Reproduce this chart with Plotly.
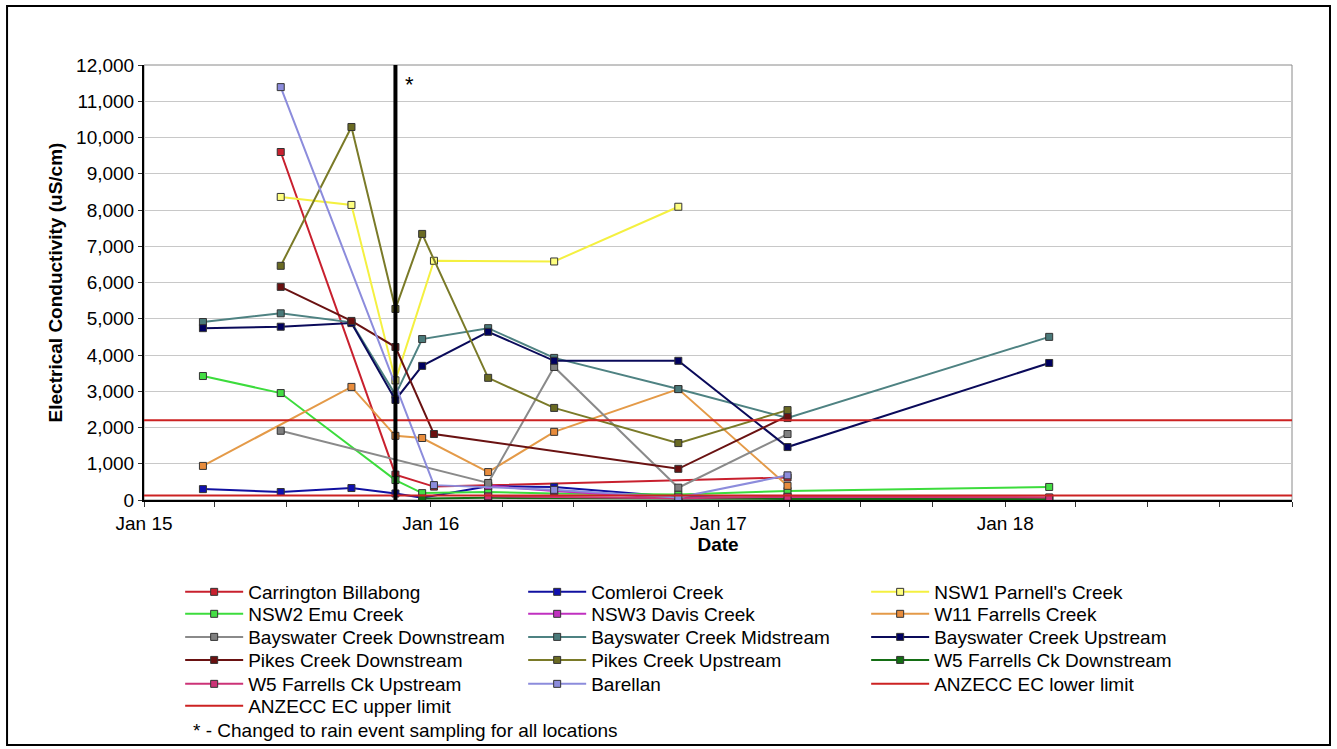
import plotly.graph_objects as go

# Sampling rounds (dates on which at least one site was sampled)
sample_dates = ["2015-03-17", "2015-06-24", "2015-09-22", "2015-11-17", "2015-12-21",
                "2016-01-05", "2016-03-14", "2016-06-06", "2016-11-11", "2017-03-30",
                "2018-02-26"]

# Electrical conductivity (uS/cm) per site, aligned with sample_dates (None = not sampled)
carrington_billabong = [None, 9600, None, 700, None, 370, None, None, None, 620, None]
comleroi_creek = [300, 220, 330, 180, 60, None, 380, 360, 80, 50, 50]
nsw1_parnells_creek = [None, 8360, 8140, 3300, None, 6600, None, 6580, 8090, None, None]
nsw2_emu_creek = [3420, 2950, None, 550, 190, None, 220, 180, 150, 250, 360]
nsw3_davis_creek = [None, None, None, None, None, None, 390, 250, 40, 70, 60]
w11_farrells_creek = [940, None, 3120, 1770, 1710, None, 770, 1880, 3060, 390, None]
bayswater_downstream = [None, 1910, None, None, None, None, 470, 3670, 340, 1820, None]
bayswater_midstream = [4910, 5150, 4900, 2900, 4440, None, 4740, 3920, 3060, 2260, 4500]
bayswater_upstream = [4740, 4780, 4880, 2760, 3700, None, 4640, 3840, 3840, 1460, 3780]
pikes_downstream = [None, 5880, 4940, 4220, None, 1820, None, None, 860, 2320, None]
pikes_upstream = [None, 6460, 10290, 5270, 7340, None, 3370, 2540, 1570, 2480, None]
w5_farrells_downstream = [None, None, None, None, 40, None, 60, None, 40, 30, 30]
w5_farrells_upstream = [None, None, None, None, None, None, 100, None, 50, 90, 70]
barellan = [None, 11390, None, None, None, 410, None, 280, 70, 680, None]

# ANZECC guideline limits for EC (uS/cm)
anzecc_lower = 125
anzecc_upper = 2200

rain_event_date = "2015-11-17"
axis_start, axis_end = "2015-01-01", "2019-01-01"

# Quarterly x ticks, labelled only in January
tick_dates = ["2015-01-01", "2015-04-01", "2015-07-01", "2015-10-01",
              "2016-01-01", "2016-04-01", "2016-07-01", "2016-10-01",
              "2017-01-01", "2017-04-01", "2017-07-01", "2017-10-01",
              "2018-01-01", "2018-04-01", "2018-07-01", "2018-10-01",
              "2019-01-01"]
tick_labels = ["Jan 15", "", "", "", "Jan 16", "", "", "", "Jan 17", "", "", "",
               "Jan 18", "", "", "", ""]

FONT = "Arial, Liberation Sans, sans-serif"

# name, values, line colour, marker fill, legend row
series = [
    ("Carrington Billabong", carrington_billabong, "#C8202E", "#C8202E", 1),
    ("Comleroi Creek", comleroi_creek, "#1010A0", "#1010B0", 1),
    ("NSW1 Parnell's Creek", nsw1_parnells_creek, "#F4F040", "#FFFF80", 1),
    ("NSW2 Emu Creek", nsw2_emu_creek, "#3CDC3C", "#44DD44", 2),
    ("NSW3 Davis Creek", nsw3_davis_creek, "#C030C0", "#C030C0", 2),
    ("W11 Farrells Creek", w11_farrells_creek, "#E49A48", "#E88C3C", 2),
    ("Bayswater Creek Downstream", bayswater_downstream, "#8A8A8A", "#808080", 3),
    ("Bayswater Creek Midstream", bayswater_midstream, "#4E8282", "#4A7A7A", 3),
    ("Bayswater Creek Upstream", bayswater_upstream, "#0A0A5A", "#000060", 3),
    ("Pikes Creek Downstream", pikes_downstream, "#6A1212", "#6A1010", 4),
    ("Pikes Creek Upstream", pikes_upstream, "#7A7A28", "#6A6A22", 4),
    ("W5 Farrells Ck Downstream", w5_farrells_downstream, "#146E14", "#146E14", 4),
    ("W5 Farrells Ck Upstream", w5_farrells_upstream, "#CC3377", "#CC3377", 5),
    ("Barellan", barellan, "#8C8CDC", "#8C8CDC", 5),
]

fig = go.Figure()


def legend_ref(row):
    return "legend" if row == 1 else f"legend{row}"


for name, values, line_col, fill_col, row in series:
    fig.add_trace(go.Scatter(
        x=sample_dates, y=values, name=name, mode="lines+markers",
        connectgaps=True,
        line=dict(color=line_col, width=2),
        marker=dict(symbol="square", size=7, color=fill_col,
                    line=dict(color="#333333", width=1)),
        legend=legend_ref(row),
    ))

fig.add_trace(go.Scatter(
    x=[axis_start, axis_end], y=[anzecc_lower, anzecc_lower],
    name="ANZECC EC lower limit", mode="lines",
    line=dict(color="#CC2222", width=2), legend=legend_ref(5),
))
fig.add_trace(go.Scatter(
    x=[axis_start, axis_end], y=[anzecc_upper, anzecc_upper],
    name="ANZECC EC upper limit", mode="lines",
    line=dict(color="#CC2222", width=2), legend=legend_ref(6),
))

# Legend rows, each laid out horizontally in three fixed-width columns
row_y = [-0.2115, -0.262, -0.315, -0.368, -0.423, -0.4736]
legend_layout = {}
for i, y in enumerate(row_y, start=1):
    legend_layout[legend_ref(i)] = dict(
        orientation="h", x=0.0315, y=y, xanchor="left", yanchor="middle",
        entrywidth=270, entrywidthmode="pixels", itemwidth=58,
        font=dict(family=FONT, size=19, color="black"),
        bgcolor="rgba(0,0,0,0)", borderwidth=0, traceorder="normal",
        tracegroupgap=0,
    )

fig.update_layout(
    width=1337, height=749,
    margin=dict(l=144, r=45, t=65, b=249),
    plot_bgcolor="white", paper_bgcolor="white",
    font=dict(family=FONT, size=19, color="black"),
    showlegend=True,
    **legend_layout,
)

fig.update_xaxes(
    type="date", range=[axis_start, axis_end],
    tickvals=tick_dates, ticktext=tick_labels,
    ticks="outside", ticklen=5, tickcolor="#333333",
    showgrid=False, zeroline=False,
    showline=True, linecolor="black", linewidth=2,
    title=dict(text="<b>Date</b>", font=dict(family=FONT, size=19), standoff=3),
    tickfont=dict(family=FONT, size=19),
)
fig.update_yaxes(
    range=[0, 12000], dtick=1000, tickformat=",d",
    ticks="outside", ticklen=4, tickcolor="#333333",
    showgrid=True, gridcolor="#C8C8C8", gridwidth=1, zeroline=False,
    showline=True, linecolor="black", linewidth=2,
    title=dict(text="<b>Electrical Conductivity (uS/cm)</b>",
               font=dict(family=FONT, size=19), standoff=8),
    tickfont=dict(family=FONT, size=19),
)

# Plot box, rain-event marker line and outer frame
fig.add_shape(type="rect", xref="paper", yref="paper", x0=0, x1=1, y0=0, y1=1,
              line=dict(color="#8A8A8A", width=1), layer="below")
fig.add_shape(type="line", xref="x", yref="y", x0=rain_event_date, x1=rain_event_date,
              y0=0, y1=12000, line=dict(color="black", width=4))
fig.add_shape(type="rect", xref="paper", yref="paper",
              x0=-0.1193, x1=1.0331, y0=-0.5632, y1=1.1356,
              line=dict(color="black", width=2))

fig.add_annotation(x=rain_event_date, y=11450, xref="x", yref="y", text="*",
                   showarrow=False, xshift=14, font=dict(family=FONT, size=22))
fig.add_annotation(x=0.0410, y=-0.531, xref="paper", yref="paper",
                   xanchor="left", yanchor="middle", showarrow=False,
                   text="* - Changed to rain event sampling for all locations",
                   font=dict(family=FONT, size=19))

fig.write_html("out.html")
